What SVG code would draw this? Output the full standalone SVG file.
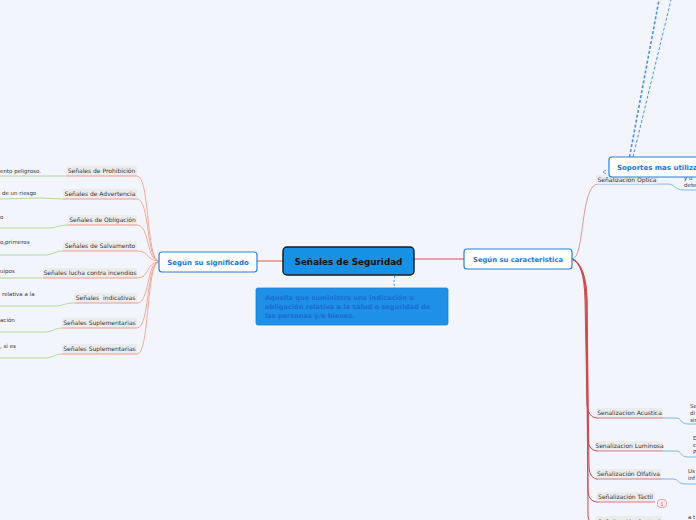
<svg xmlns="http://www.w3.org/2000/svg" width="696" height="520" viewBox="0 0 696 520">
<style>
text{font-family:"DejaVu Sans","Liberation Sans",sans-serif}
.lbl{fill:#ececec;stroke:none}
.lt{font-size:6px;fill:#333;text-anchor:middle}
.leaf{font-size:5.5px;fill:#333}
.sal{fill:none;stroke:#f2a08c;stroke-width:0.9}
.uls{fill:none;stroke:#f09a86;stroke-width:1}
.grn{fill:none;stroke:#a9d68c;stroke-width:0.9}
.red{fill:none;stroke:#cc4a4f;stroke-width:1}
.ul{fill:none;stroke:#d97a80;stroke-width:1}
.blu{fill:none;stroke:#6cb0e4;stroke-width:0.9}
.dash{fill:none;stroke:#4a90e2;stroke-dasharray:3 2}
.wnode{fill:#fff;stroke:#2a7fd4;stroke-width:1.2}
.wt{font-weight:bold;fill:#1f74d0;text-anchor:middle}
</style>
<rect width="696" height="520" fill="#f3f5fd"/>
<g id="connectors">
<path d="M283 261 L257 261" stroke="#e5735f" stroke-width="1.2" fill="none"/>
<path d="M413 259 L464 259" stroke="#d45350" stroke-width="1.2" fill="none"/>
<path d="M395 276 Q393 282 395 288" stroke="#3a8ee0" stroke-width="1" stroke-dasharray="2 2" fill="none"/>
<path class="sal" d="M137 176 C150 176,146 261,159 261"/>
<path class="sal" d="M137 199 C150 199,146 261,159 261"/>
<path class="sal" d="M137 225 C150 225,146 261,159 261"/>
<path class="sal" d="M137 251 C150 251,146 261,159 261"/>
<path class="sal" d="M137 278 C150 278,146 262,159 262"/>
<path class="sal" d="M137 303 C150 303,146 262,159 262"/>
<path class="sal" d="M137 328 C150 328,146 262,159 262"/>
<path class="sal" d="M137 354 C150 354,146 262,159 262"/>
<path class="grn" d="M0 176 L66 176"/>
<path class="grn" d="M0 199 L40 198 L63 199"/>
<path class="grn" d="M0 228 L48 228 C56 228,58 225,68 225"/>
<path class="grn" d="M0 255 L45 255 C53 255,55 251,63 251"/>
<path class="grn" d="M0 278 L43 278"/>
<path class="grn" d="M0 306 L55 306 C63 306,65 303,74 303"/>
<path class="grn" d="M0 332 L45 332 C53 332,55 328,62 328"/>
<path class="grn" d="M0 358 L45 358 C53 358,55 354,62 354"/>
<path d="M572 259 C585 259,580 184,598 184" fill="none" stroke="#e08a90" stroke-width="0.9"/>
<path class="red" d="M572 259 Q584 262 585 300 L587 405 Q588 418 598 418"/>
<path class="red" d="M572 259 Q585 263 586 300 L588 440 Q589 451 598 451"/>
<path class="red" d="M572 259 Q586 264 587 300 L589 468 Q590 479 598 479"/>
<path class="red" d="M572 259 Q585 265 586 300 L588 492 Q589 502 598 502"/>
<path class="red" d="M572 259 Q586 266 587 300 L588 516 Q589 526 598 526"/>
<path class="blu" d="M598 184 L668 184 C675 184,674 190,684 190 L696 190"/>
<path class="blu" d="M663 418 L676 418 C682 418,680 424,688 424 L696 424"/>
<path class="blu" d="M663 451 L676 451 C682 451,680 457,688 457 L696 457"/>
<path class="blu" d="M661 479 L673 479 C679 479,677 484,686 484 L696 484"/>
<path class="dash" stroke-width="1.6" d="M629.5 157 L659 0"/>
<path class="dash" stroke-width="1" d="M633 157 L671 0"/>
<path d="M606 170 L603 172 L606 174" fill="none" stroke="#4a90e2" stroke-width="0.8"/>
</g>
<g id="central">
<rect x="283" y="247" width="131" height="28" rx="4" fill="#1791e6" stroke="#1e1e1e" stroke-width="1.5"/>
<text x="348.5" y="265" font-size="8.8" font-weight="bold" fill="#111" text-anchor="middle">Señales de Seguridad</text>
</g>
<g id="descripcion">
<rect x="256" y="288" width="192" height="37" rx="2" fill="#1f90e8" stroke="#1a7fd0" stroke-width="0.8"/>
<text font-size="6.6" font-weight="bold" fill="#1a6cd0"><tspan x="265" y="300">Aquella que suministra una indicación u</tspan><tspan x="265" y="309">obligación relativa a la salud o seguridad de</tspan><tspan x="265" y="318">las personas y/o bienes.</tspan></text>
</g>
<g id="significado">
<rect class="wnode" x="159" y="252" width="98" height="20" rx="3"/>
<text class="wt" x="208" y="264.5" font-size="7">Según su significado</text>
</g>
<g id="caracteristica">
<rect class="wnode" x="464" y="249" width="108" height="20" rx="3"/>
<text class="wt" x="518" y="261.5" font-size="6.8">Según su caracteristica</text>
</g>
<g id="prohibicion"><rect class="lbl" x="66" y="166" width="71" height="10" rx="1.5"/><path class="uls" d="M66 176 L137 176"/><text class="lt" x="101.5" y="173">Señales de Prohibición</text></g>
<g id="advertencia"><rect class="lbl" x="63" y="189" width="74" height="10" rx="1.5"/><path class="uls" d="M63 199 L137 199"/><text class="lt" x="100" y="196">Señales de Advertencia</text></g>
<g id="obligacion"><rect class="lbl" x="68" y="215" width="69" height="10" rx="1.5"/><path class="uls" d="M68 225 L137 225"/><text class="lt" x="102.5" y="222">Señales de Obligación</text></g>
<g id="salvamento"><rect class="lbl" x="63" y="241" width="74" height="10" rx="1.5"/><path class="uls" d="M63 251 L137 251"/><text class="lt" x="100" y="248">Señales de Salvamento</text></g>
<g id="incendios"><rect class="lbl" x="43" y="268" width="94" height="10" rx="1.5"/><path class="uls" d="M43 278 L137 278"/><text class="lt" x="90" y="275">Señales lucha contra incendios</text></g>
<g id="indicativas"><rect class="lbl" x="74" y="293" width="63" height="10" rx="1.5"/><path class="uls" d="M74 303 L137 303"/><text class="lt" x="105.5" y="300" xml:space="preserve">Señales  indicativas</text></g>
<g id="suplementarias1"><rect class="lbl" x="62" y="318" width="75" height="10" rx="1.5"/><path class="uls" d="M62 328 L137 328"/><text class="lt" x="99.5" y="325">Señales Suplementarias</text></g>
<g id="suplementarias2"><rect class="lbl" x="62" y="344" width="75" height="10" rx="1.5"/><path class="uls" d="M62 354 L137 354"/><text class="lt" x="99.5" y="351">Señales Suplementarias</text></g>
<g id="leaves-left">
<text class="leaf" x="0" y="173">ento peligroso.</text>
<text class="leaf" x="2" y="195">de un riesgo</text>
<text class="leaf" x="0" y="219">o</text>
<text class="leaf" x="0" y="244">o,primeros</text>
<text class="leaf" x="0" y="273">uipos</text>
<text class="leaf" x="2" y="296">relativa a la</text>
<text class="leaf" x="0" y="322">ación</text>
<text class="leaf" x="0" y="348">, si es</text>
</g>
<g id="optica"><rect class="lbl" x="596" y="175" width="62" height="9" rx="1.5"/><text class="lt" x="627" y="181.5" fill="#555">Señalización Óptica</text></g>
<g id="acustica"><rect class="lbl" x="596" y="408" width="67" height="10" rx="1.5"/><path class="ul" d="M596 418 L663 418"/><text class="lt" x="629.5" y="415">Senalizacion Acustica</text></g>
<g id="luminosa"><rect class="lbl" x="596" y="441" width="67" height="10" rx="1.5"/><path class="ul" d="M596 451 L663 451"/><text class="lt" x="629.5" y="448">Senalizacion Luminosa</text></g>
<g id="olfativa"><rect class="lbl" x="596" y="469" width="65" height="10" rx="1.5"/><path class="ul" d="M596 479 L661 479"/><text class="lt" x="628.5" y="476">Señalización Olfativa</text></g>
<g id="tactil"><rect class="lbl" x="596" y="492" width="59" height="10" rx="1.5"/><path class="ul" d="M596 502 L655 502"/><text class="lt" x="625.5" y="499">Señalización Táctil</text>
<rect x="657.5" y="499.5" width="9" height="8" rx="3" fill="#fbeef0" stroke="#e08a94" stroke-width="0.8"/><text x="662" y="506" font-size="5.5" fill="#d0606c" text-anchor="middle">1</text></g>
<g id="gestual"><rect class="lbl" x="596" y="516" width="66" height="10" rx="1.5"/><text class="lt" x="629" y="523.5">Señalización Gestual</text></g>
<g id="leaves-right">
<text class="leaf" x="684" y="180">y u</text>
<text class="leaf" x="684" y="187">dete</text>
<text class="leaf" x="690" y="408">Se</text>
<text class="leaf" x="690" y="415">di</text>
<text class="leaf" x="690" y="422">sin</text>
<text class="leaf" x="693" y="440">E</text>
<text class="leaf" x="693" y="447">c</text>
<text class="leaf" x="693" y="454">P</text>
<text class="leaf" x="688" y="473">Us</text>
<text class="leaf" x="688" y="480">inf</text>
<text class="leaf" x="688" y="519">a t</text>
</g>
<g id="soportes">
<rect class="wnode" x="609" y="157" width="100" height="20" rx="3"/>
<text x="617" y="170" font-size="7" font-weight="bold" fill="#1f74d0">Soportes mas utiliza</text>
</g>
</svg>
